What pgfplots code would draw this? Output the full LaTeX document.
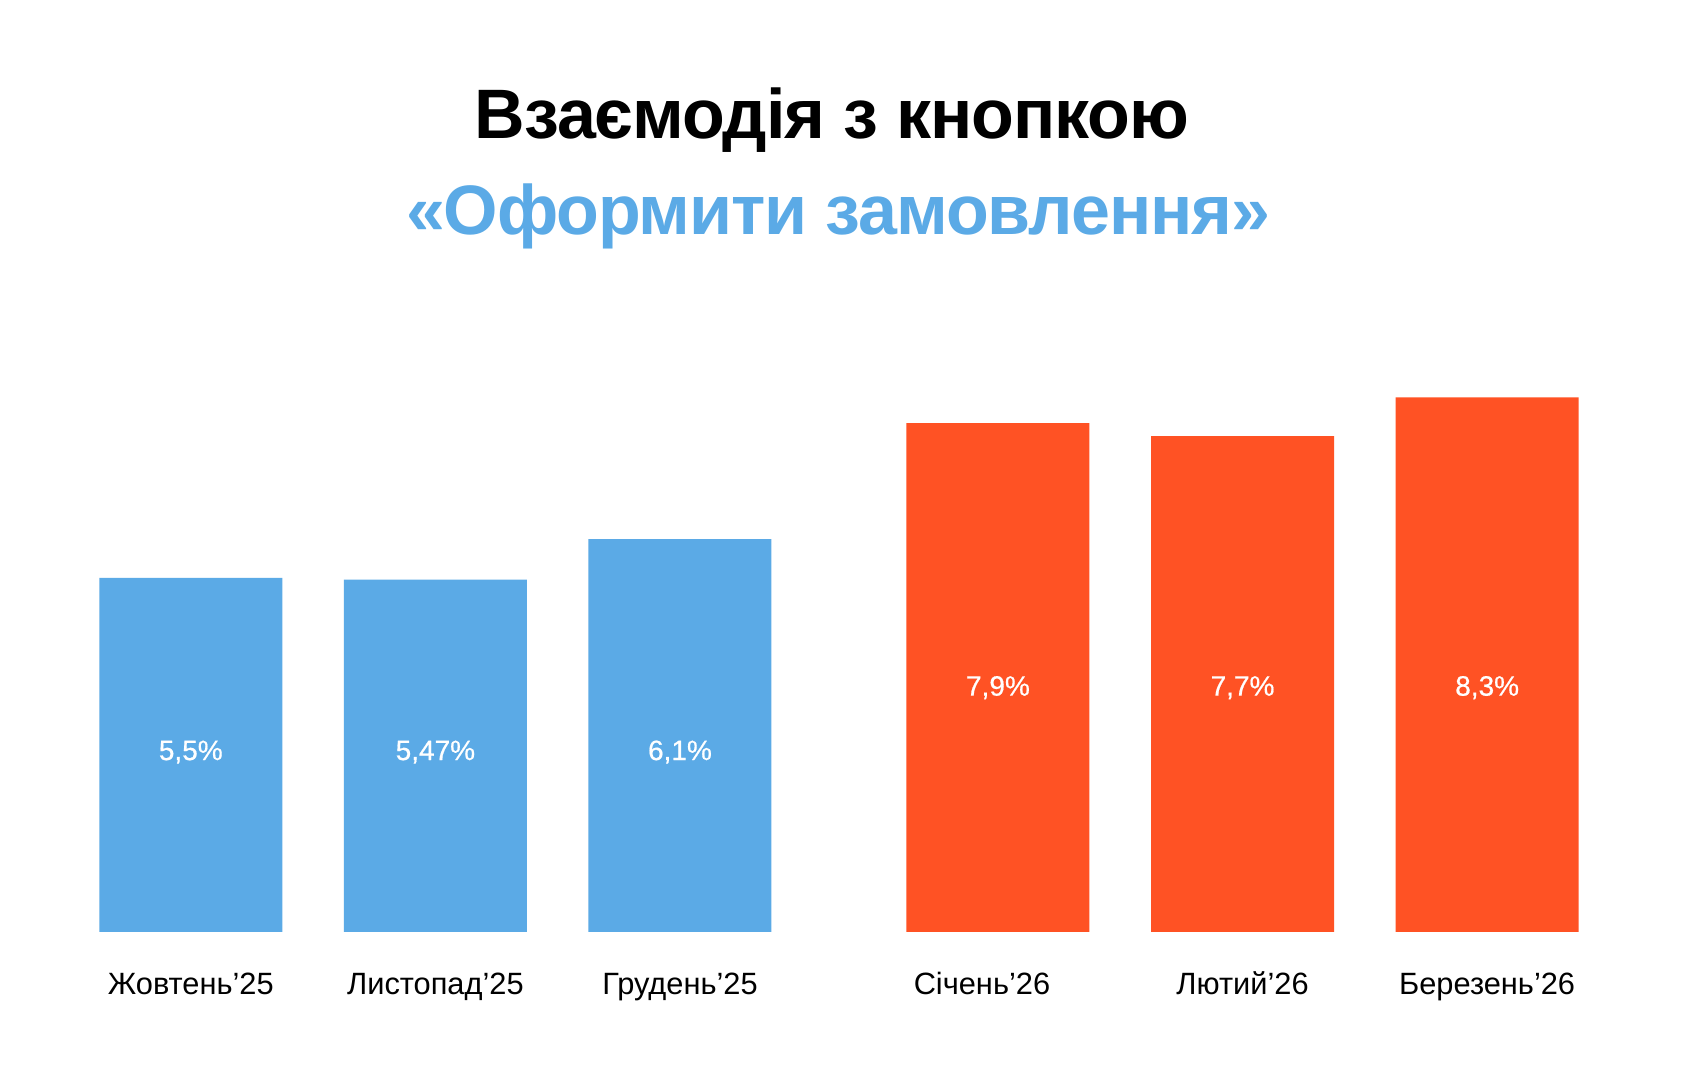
\documentclass[border=0pt]{standalone}
\usepackage{fontspec}
\setmainfont{Liberation Sans}
\newfontfamily\titlefont[LetterSpace=-1.6]{Liberation Sans}
\newfontfamily\medfont[FakeBold=0.6]{Liberation Sans}
\usepackage{pgfplots}
\pgfplotsset{compat=1.18}
\definecolor{cblue}{RGB}{91,170,230}
\definecolor{corange}{RGB}{255,82,36}
\begin{document}
\begin{tikzpicture}
\path[use as bounding box, fill=white] (0pt,-74pt) rectangle (843pt,466pt);
\begin{axis}[
  anchor=south west,
  width=843pt, height=322pt, scale only axis,
  xmin=-0.780, xmax=6.113, ymin=0, ymax=10,
  hide axis, clip=false,
]
\addplot[ybar, bar width=91.5pt, fill=cblue, draw=none] coordinates {(0,5.5) (1,5.47) (2,6.1)};
\addplot[ybar, bar width=91.5pt, fill=corange, draw=none] coordinates {(3.3,7.9) (4.3,7.7) (5.3,8.3)};
\tikzset{vlab/.style={anchor=base, text=white, font=\medfont\fontsize{14}{14}\selectfont},
         clab/.style={anchor=base, yshift=-31.5pt, font=\fontsize{15.4}{16}\selectfont}}
\node[vlab] at (axis cs:0,2.67) {5,5\%};
\node[vlab] at (axis cs:1,2.67) {5,47\%};
\node[vlab] at (axis cs:2,2.67) {6,1\%};
\node[vlab] at (axis cs:3.3,3.67) {7,9\%};
\node[vlab] at (axis cs:4.3,3.67) {7,7\%};
\node[vlab] at (axis cs:5.3,3.67) {8,3\%};
\node[clab] at (axis cs:0,0) {Жовтень’25};
\node[clab] at (axis cs:1,0) {Листопад’25};
\node[clab] at (axis cs:2,0) {Грудень’25};
\node[clab, xshift=-8pt] at (axis cs:3.3,0) {Січень’26};
\node[clab] at (axis cs:4.3,0) {Лютий’26};
\node[clab] at (axis cs:5.3,0) {Березень’26};
\end{axis}
\node[anchor=base, font=\titlefont\fontsize{35}{40}\selectfont\bfseries] at (416pt,396.5pt) {Взаємодія з кнопкою};
\node[anchor=base, text=cblue, font=\titlefont\fontsize{35}{40}\selectfont\bfseries] at (419pt,348.5pt) {«Оформити замовлення»};
\end{tikzpicture}
\end{document}
